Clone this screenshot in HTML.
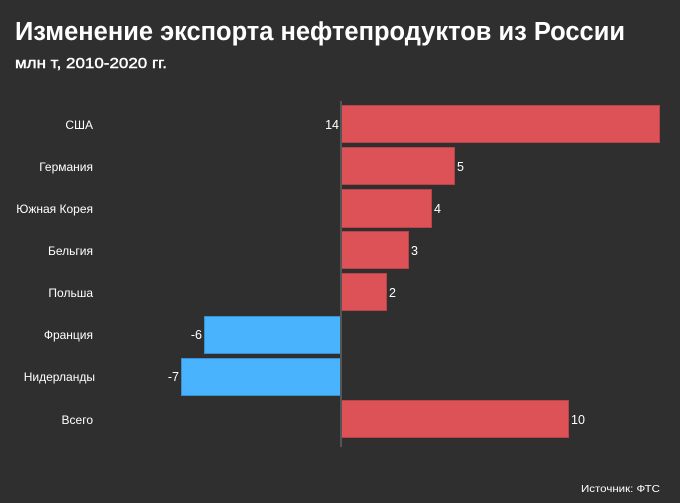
<!DOCTYPE html>
<html><head><meta charset="utf-8"><style>
html,body{margin:0;padding:0;background:#2f2f2f;}
svg{display:block;}
text{font-family:"Liberation Sans",sans-serif;fill:#fff;}
</style></head><body>
<svg width="680" height="503" viewBox="0 0 680 503">
<rect width="680" height="503" fill="#2f2f2f"/>
<text x="15" y="40" font-size="25.5" font-weight="bold" textLength="610" lengthAdjust="spacingAndGlyphs">Изменение экспорта нефтепродуктов из России</text>
<text x="15" y="68" font-size="14.5" textLength="152" lengthAdjust="spacingAndGlyphs" stroke="#fff" stroke-width="0.4">млн т, 2010-2020 гг.</text>
<g stroke="#b8444a" stroke-width="1" fill="#dc5257">
<rect x="341.5" y="105.5" width="318" height="37"/>
<rect x="341.5" y="147.5" width="113" height="37"/>
<rect x="341.5" y="189.5" width="90" height="38"/>
<rect x="341.5" y="231.5" width="67" height="37"/>
<rect x="341.5" y="273.5" width="45" height="37"/>
<rect x="341.5" y="400.5" width="227" height="37"/>
</g>
<g stroke="#3a8fd0" stroke-width="1" fill="#4ab3fd">
<rect x="204.5" y="316.5" width="137" height="37"/>
<rect x="181.5" y="358.5" width="160" height="37"/>
</g>
<rect x="340" y="101" width="2" height="346" fill="#555"/>
<g font-size="12" text-anchor="end">
<text x="93" y="129">США</text>
<text x="93" y="171">Германия</text>
<text x="93" y="213">Южная Корея</text>
<text x="93" y="255">Бельгия</text>
<text x="93" y="297">Польша</text>
<text x="93" y="339">Франция</text>
<text x="95" y="381">Нидерланды</text>
<text x="93" y="424">Всего</text>
</g>
<g font-size="12.5">
<text x="339" y="129" text-anchor="end">14</text>
<text x="457" y="171">5</text>
<text x="434" y="213">4</text>
<text x="411" y="255">3</text>
<text x="389" y="297">2</text>
<text x="202" y="339" text-anchor="end">-6</text>
<text x="179" y="381" text-anchor="end">-7</text>
<text x="571" y="424">10</text>
</g>
<text x="581" y="492" font-size="10.5" textLength="79" lengthAdjust="spacingAndGlyphs">Источник: ФТС</text>
</svg>
</body></html>
